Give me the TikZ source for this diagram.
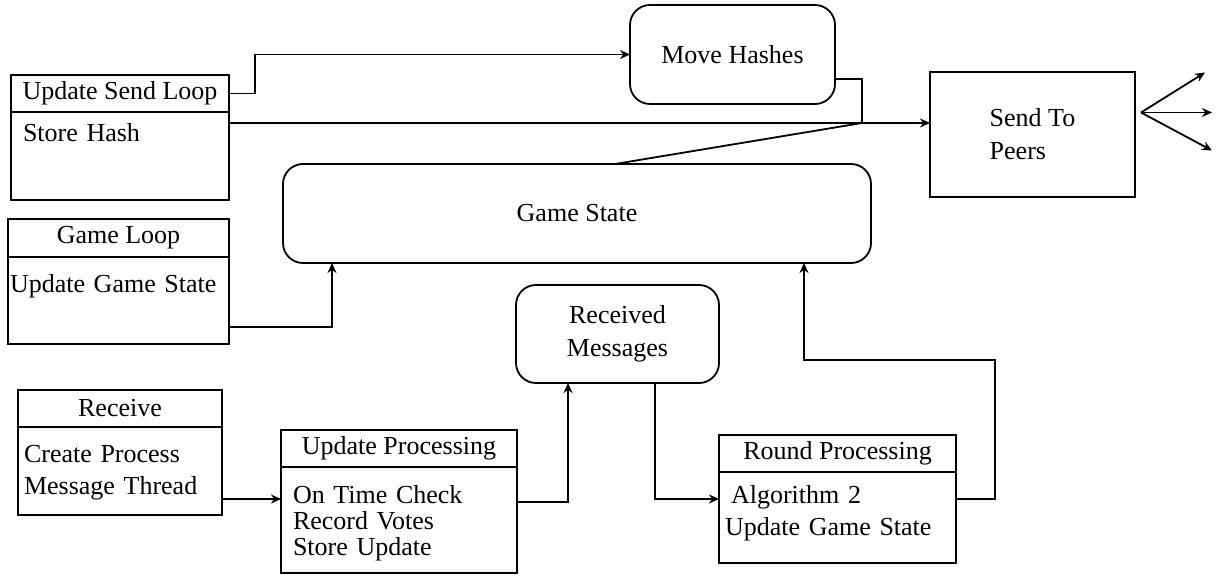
\documentclass[tikz,border=0pt]{standalone}
\usepackage{fontspec}
\setmainfont{Liberation Serif}
\usetikzlibrary{arrows.meta,positioning}

\begin{document}
\begin{tikzpicture}[x=1pt, y=-1pt, line width=1.8pt,
    every node/.style={font=\fontsize{26}{33}\selectfont, inner sep=0pt, outer sep=0pt},
    head/.style={draw, rectangle, anchor=north west, minimum height=37pt},
    body/.style={draw, rectangle, align=left, inner xsep=6pt},
    blob/.style={draw, rectangle, rounded corners=20pt, anchor=north west, align=center},
    flow/.style={-{Stealth[length=10pt, width=9pt]}}]
    \useasboundingbox (0,0) rectangle (1226,577);

    % threads with their jobs
    \node[head, minimum width=218pt] (sendloop) at (11,75) {Update Send Loop};
    \node[body, below=0pt of sendloop, text width=206pt, text height=30pt, text depth=58pt] (sendbody) {\hspace{6pt}Store Hash};
    \node[head, minimum width=221pt, minimum height=38pt] (gameloop) at (8,219) {Game Loop};
    \node[body, below=0pt of gameloop, inner xsep=2pt, text width=217pt, text height=36pt, text depth=51pt] (gamebody) {Update Game State};
    \node[head, minimum width=204pt] (receive) at (18,390) {Receive};
    \node[body, below=0pt of receive, text width=192pt, text height=35pt, text depth=53pt, font=\fontsize{26}{32}\selectfont] (recvbody) {Create Process\\Message Thread};
    \node[head, minimum width=236pt] (updproc) at (281,430) {Update Processing};
    \node[body, below=0pt of updproc, inner xsep=12pt, text width=212pt, text height=36pt, text depth=70pt, font=\fontsize{26}{26}\selectfont] (updbody) {On Time Check\\Record Votes\\Store Update};
    \node[head, minimum width=237pt] (roundproc) at (719,435) {Round Processing};
    \node[body, below=0pt of roundproc, text width=225pt, text height=31pt, text depth=60pt, font=\fontsize{26}{32}\selectfont] (roundbody) {\hspace{6pt}Algorithm 2\\Update Game State};

    % shared data
    \node[blob, minimum width=205pt, minimum height=99pt] (movehash) at (630,5) {Move Hashes};
    \node[blob, minimum width=588pt, minimum height=99pt] (gamestate) at (283,164) {Game State};
    \node[blob, minimum width=203pt, minimum height=98pt] (recvmsg) at (516,285) {Received\\Messages};
    \node[draw, rectangle, anchor=north west, align=left, minimum width=205pt, minimum height=125pt] (sendpeers) at (930,72) {Send To\\Peers};

    % connectors
    \coordinate (join) at (862,123);
    \draw[flow] (sendloop.east) -- ++(26,0) |- (movehash.west);
    \draw ([yshift=25pt]movehash.south east) -| (join);
    \draw[flow] (sendbody.east |- join) -- (sendpeers.west |- join);
    \draw ([xshift=38pt]gamestate.north) -- (join);
    \draw[flow] ([yshift=17pt]gamebody.south east) -| ([xshift=49pt]gamestate.south west);
    \draw[flow] ([yshift=16pt]recvbody.south east) coordinate (recvout) -- (recvout -| updbody.west);
    \draw[flow] ([yshift=71pt]updbody.south east) -| ([xshift=52pt]recvmsg.south west);
    \draw[flow] ([xshift=139pt]recvmsg.south west) |- ([yshift=64pt]roundbody.south west);
    \draw[flow] ([yshift=64pt]roundbody.south east) -- ++(39,0) -- ++(0,-139) -| ([xshift=521pt]gamestate.south west);
    \coordinate (fan) at ([shift={(6pt,22pt)}]sendpeers.east);
    \foreach \dx/\dy in {64/-40, 71/0, 71/38}
        \draw[flow] (fan) -- ++(\dx,\dy);
\end{tikzpicture}
\end{document}
